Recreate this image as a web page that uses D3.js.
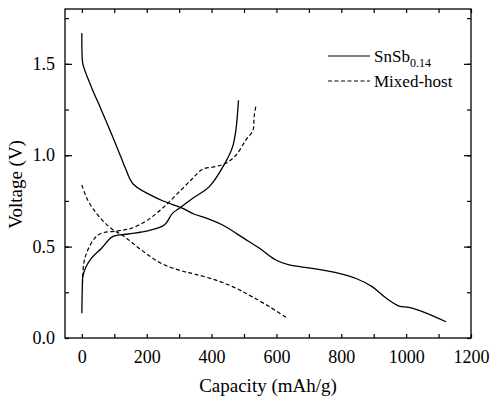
<!DOCTYPE html>
<html>
<head>
<meta charset="utf-8">
<script src="https://cdn.jsdelivr.net/npm/d3@7"></script>
</head>
<body style="margin:0">
<svg id="chart" width="494" height="398">
  <text id="xtitle" x="268" y="392" text-anchor="middle" font-size="19" font-family="Liberation Serif">Capacity (mAh/g)</text>
  <text id="ytitle" transform="translate(22,185) rotate(-90)" text-anchor="middle" font-size="19" font-family="Liberation Serif">Voltage (V)</text>
</svg>
<script>
// Capacity (mAh/g) vs Voltage (V)
let snsbDischarge = [
  [0, 1.668], [0.5, 1.56], [3, 1.50], [29, 1.375], [60, 1.248], [94, 1.105],
  [121, 0.988], [134, 0.93], [159, 0.841], [244, 0.755], [306, 0.713],
  [347, 0.677], [390, 0.652], [434, 0.618], [500, 0.545], [547, 0.492], [598, 0.427],
  [639, 0.40], [711, 0.381], [793, 0.354], [844, 0.327], [895, 0.281],
  [937, 0.22], [978, 0.175], [1008, 0.168], [1060, 0.138], [1123, 0.089]
];
let snsbCharge = [
  [0, 0.135], [1.5, 0.28], [3, 0.336], [13, 0.39], [29, 0.436], [60, 0.49],
  [95, 0.555], [142, 0.569], [203, 0.586], [254, 0.618], [280, 0.683],
  [301, 0.71], [342, 0.765], [393, 0.828], [444, 0.965], [465, 1.047],
  [475, 1.138], [483, 1.30]
];
let mixedDischarge = [
  [0, 0.837], [18, 0.755], [49, 0.673], [90, 0.60], [131, 0.555],
  [183, 0.482], [244, 0.409], [306, 0.368], [347, 0.35], [413, 0.317],
  [465, 0.281], [500, 0.25], [526, 0.225], [578, 0.172], [634, 0.108]
];
let mixedCharge = [
  [2, 0.30], [6, 0.41], [18, 0.48], [39, 0.545], [60, 0.573], [111, 0.586],
  [152, 0.60], [203, 0.646], [254, 0.719], [306, 0.81], [342, 0.874],
  [372, 0.923], [413, 0.938], [444, 0.956], [475, 1.00], [506, 1.084],
  [528, 1.138], [531, 1.21], [538, 1.28]
];
let xTicks = [0, 200, 400, 600, 800, 1000, 1200];
let yTicks = [0.0, 0.5, 1.0, 1.5];

let serif = "Liberation Serif";
let svg = d3.select("#chart");
let mLeft = 65, mRight = 471, mTop = 9, mBottom = 338;

let x = d3.scaleLinear().domain([-52, 1200]).range([mLeft, mRight]);
let y = d3.scaleLinear().domain([0, 1.8]).range([mBottom, mTop]);

// frame
svg.append("rect")
  .attr("x", mLeft).attr("y", mTop)
  .attr("width", mRight - mLeft).attr("height", mBottom - mTop)
  .attr("fill", "none").attr("stroke", "#000").attr("stroke-width", 1.3);

// ticks, all pointing inward
let xMinor = d3.range(0, 1201, 100);
let yMinor = d3.range(0, 1.8, 0.25);

function drawAxis(axis, pos) {
  let g = svg.append("g").attr("transform", pos).call(axis);
  g.select(".domain").remove();
  g.attr("font-family", serif);
  g.selectAll("line").attr("stroke", "#000").attr("stroke-width", 1.2);
  return g;
}

drawAxis(d3.axisBottom(x).tickValues(xMinor).tickSize(-4).tickFormat(""), `translate(0,${mBottom})`);
drawAxis(d3.axisTop(x).tickValues(xMinor).tickSize(-4).tickFormat(""), `translate(0,${mTop})`);
drawAxis(d3.axisLeft(y).tickValues(yMinor).tickSize(-4).tickFormat(""), `translate(${mLeft},0)`);
drawAxis(d3.axisRight(y).tickValues(yMinor).tickSize(-4).tickFormat(""), `translate(${mRight},0)`);
drawAxis(d3.axisLeft(y).tickValues(yTicks.filter(d => d > 0)).tickSize(-7).tickFormat(""), `translate(${mLeft},0)`);
drawAxis(d3.axisRight(y).tickValues(yTicks.filter(d => d > 0)).tickSize(-7).tickFormat(""), `translate(${mRight},0)`);

// tick labels
let gx = drawAxis(d3.axisBottom(x).tickValues(xTicks).tickSize(0).tickPadding(12).tickFormat(d3.format("d")), `translate(0,${mBottom})`);
gx.attr("font-size", 18);
let gy = drawAxis(d3.axisLeft(y).tickValues(yTicks).tickSize(0).tickPadding(10).tickFormat(d3.format(".1f")), `translate(${mLeft},0)`);
gy.attr("font-size", 18);

// axis titles sit in the markup; place them from the scales
d3.select("#xtitle").attr("x", (mLeft + mRight) / 2);
d3.select("#ytitle").attr("transform", `translate(22,${y(0.84)}) rotate(-90)`);

// curves
let line = d3.line()
  .x(d => x(d[0]))
  .y(d => y(d[1]))
  .curve(d3.curveCatmullRom.alpha(0.5));

[snsbDischarge, snsbCharge].forEach(s => {
  svg.append("path").datum(s)
    .attr("fill", "none").attr("stroke", "#000").attr("stroke-width", 1.3)
    .attr("d", line);
});
[mixedDischarge, mixedCharge].forEach(s => {
  svg.append("path").datum(s)
    .attr("fill", "none").attr("stroke", "#000").attr("stroke-width", 1.2)
    .attr("stroke-dasharray", "4,2.5")
    .attr("d", line);
});

// legend
let legend = svg.append("g");
legend.append("line")
  .attr("x1", 328).attr("x2", 370).attr("y1", 56).attr("y2", 56)
  .attr("stroke", "#000").attr("stroke-width", 1.2);
let t1 = legend.append("text").attr("x", 374).attr("y", 62).attr("font-size", 17);
t1.append("tspan").text("SnSb");
t1.append("tspan").attr("dy", 5).attr("font-size", 12).text("0.14");
legend.append("line")
  .attr("x1", 328).attr("x2", 370).attr("y1", 81).attr("y2", 81)
  .attr("stroke", "#000").attr("stroke-width", 1.2)
  .attr("stroke-dasharray", "4,2.5");
legend.append("text").attr("x", 374).attr("y", 87).attr("font-size", 17)
  .text("Mixed-host");

svg.selectAll("text")
  .attr("font-family", serif)
  .attr("fill", "#000");
</script>
</body>
</html>
